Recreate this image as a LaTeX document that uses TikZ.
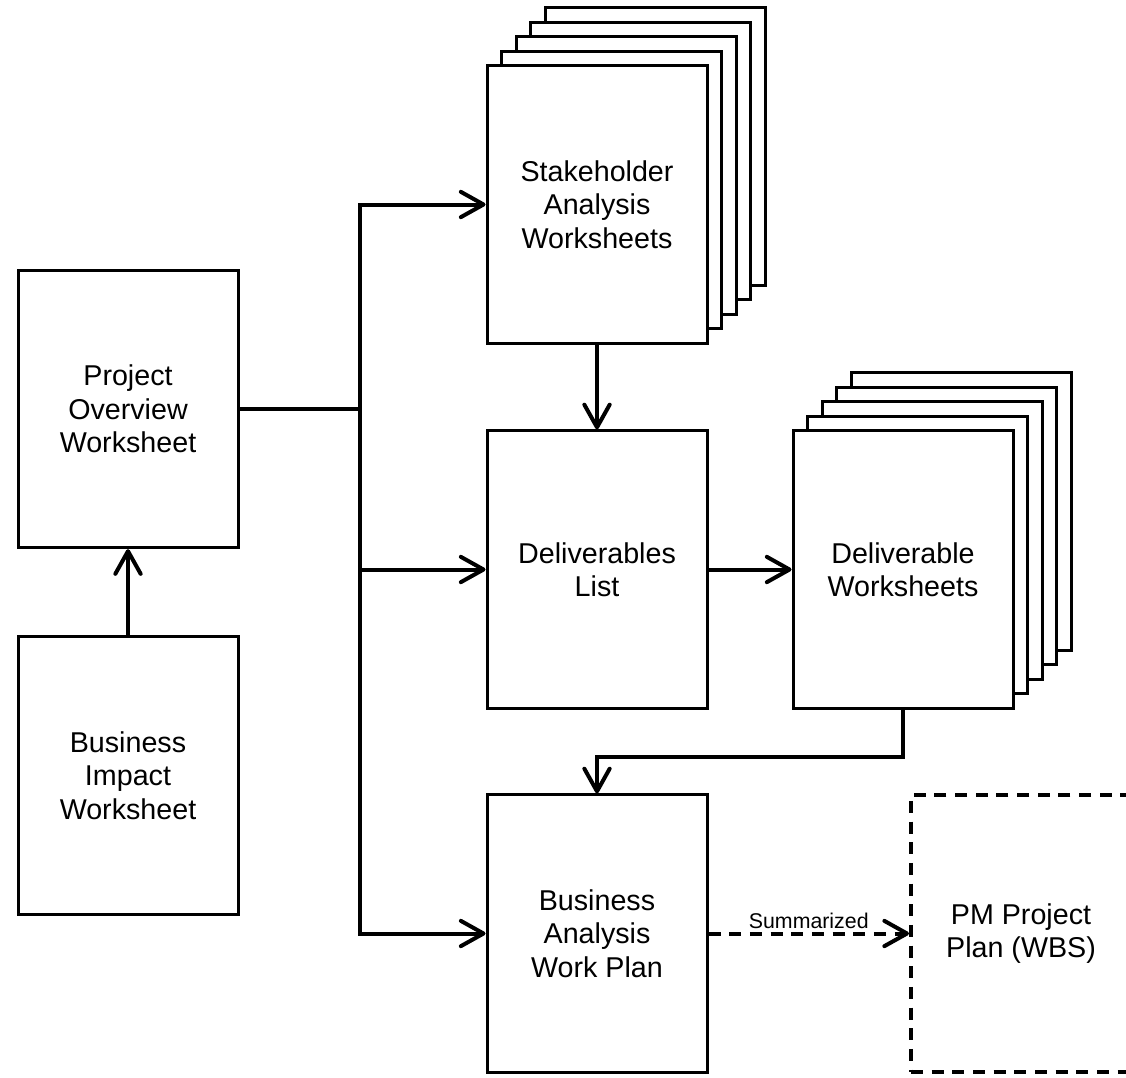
\documentclass[tikz,border=0pt]{standalone}
\usepackage{fontspec}
\setmainfont{Liberation Sans}
\usetikzlibrary{arrows.meta,shadows}
\begin{document}
\begin{tikzpicture}
        [x=0.75pt,y=-0.75pt,
         sheet/.style={draw,fill=white,line width=2.25pt,minimum width=165pt,
           minimum height=208pt,inner sep=0pt,align=center,
           font=\fontsize{21.5}{25}\selectfont},
         pile/.style={sheet,
           copy shadow={shadow xshift=43.5pt,shadow yshift=43.5pt},
           copy shadow={shadow xshift=32.6pt,shadow yshift=32.6pt},
           copy shadow={shadow xshift=21.8pt,shadow yshift=21.8pt},
           copy shadow={shadow xshift=10.9pt,shadow yshift=10.9pt}},
         dashes/.style={dash pattern=on 9pt off 6.5pt},
         link/.style={line width=3pt,-{Straight Barb[length=17pt,width=19pt,round]}},
         dashlink/.style={link,dashes}]
        \useasboundingbox (0,0) rectangle (1126,1077);

        \node[sheet] (pow) at (128,409) {Project\\Overview\\Worksheet};
        \node[sheet] (biw) at (128,775.5) {Business\\Impact\\Worksheet};
        \node[pile] (saw) at (597,204.5) {Stakeholder\\Analysis\\Worksheets};
        \node[sheet] (dl) at (597,569.5) {Deliverables\\List};
        \node[pile] (dw) at (903,569.5) {Deliverable\\Worksheets};
        \node[sheet] (bawp) at (597,933.5) {Business\\Analysis\\Work Plan};
        \node[sheet,line width=3pt,dashes] (pm) at (1021,933.5) {PM Project\\Plan (WBS)};

        \coordinate (bus) at (360,409);
        \draw[line width=3pt] (pow.east) -- (bus);
        \draw[link] (bus) |- (saw.west);
        \draw[link] (bus) |- (dl.west);
        \draw[link] (bus) |- (bawp.west);

        \draw[link] (biw.north) -- (pow.south);
        \draw[link] (saw.south) -- (dl.north);
        \draw[link] (dl.east) -- (dw.west);
        \draw[link] (dw.south) -- ++(0,47) -| (bawp.north);

        \draw[dashlink] (bawp.east) -- (pm.west)
          node[midway,above=-1pt,font=\fontsize{16}{19}\selectfont] {Summarized};
      \end{tikzpicture}
\end{document}
